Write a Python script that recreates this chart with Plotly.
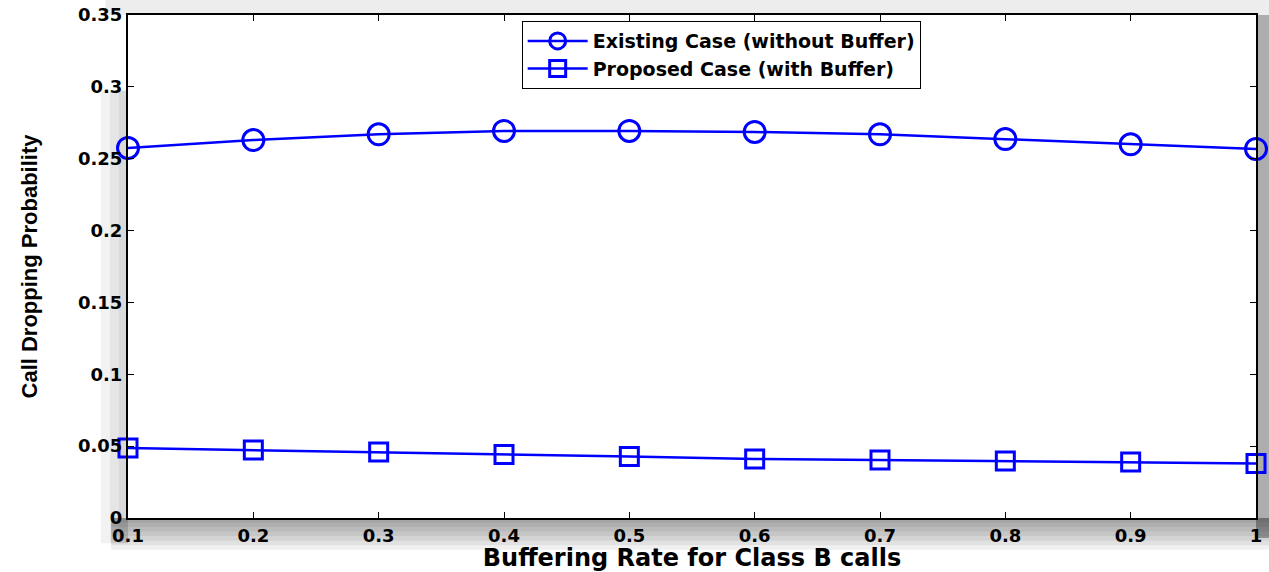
import plotly.graph_objects as go

rates = [0.1, 0.2, 0.3, 0.4, 0.5, 0.6, 0.7, 0.8, 0.9, 1.0]
existing = [0.2575, 0.2630, 0.2670, 0.2693, 0.2693, 0.2686, 0.2670, 0.2637, 0.2600, 0.2568]
proposed = [0.0487, 0.0473, 0.0459, 0.0442, 0.0428, 0.0411, 0.0404, 0.0397, 0.0390, 0.0380]
x_ticks = [0.1, 0.2, 0.3, 0.4, 0.5, 0.6, 0.7, 0.8, 0.9, 1]
x_tick_text = ["0.1", "0.2", "0.3", "0.4", "0.5", "0.6", "0.7", "0.8", "0.9", "1"]
y_ticks = [0, 0.05, 0.1, 0.15, 0.2, 0.25, 0.3, 0.35]
y_tick_text = ["0", "0.05", "0.1", "0.15", "0.2", "0.25", "0.3", "0.35"]

BLUE = "#0000ff"
FONT = "DejaVu Sans, Verdana, sans-serif"
NARROW = "Liberation Sans Narrow, Arial Narrow, Liberation Sans, sans-serif"

fig = go.Figure()
fig.add_trace(go.Scatter(
    x=rates, y=existing, mode="lines+markers",
    name="Existing Case (without Buffer)",
    line=dict(color=BLUE, width=2.5),
    marker=dict(symbol="circle-open", size=21, color=BLUE, line=dict(width=3, color=BLUE)),
    cliponaxis=False,
))
fig.add_trace(go.Scatter(
    x=rates, y=proposed, mode="lines+markers",
    name="Proposed Case (with Buffer)",
    line=dict(color=BLUE, width=2.5),
    marker=dict(symbol="square-open", size=18, color=BLUE, line=dict(width=3, color=BLUE)),
    cliponaxis=False,
))

shapes = []
# bottom shadow (stacked translucent bands fade away from the axis)
for k in range(1, 8):
    shapes.append(dict(type="rect", xref="paper", yref="paper", x0=-0.015, x1=1.02,
                       y0=-0.009 * k, y1=0.0, fillcolor="rgba(0,0,0,0.06)",
                       line=dict(width=0), layer="below"))
# right shadow
shapes.append(dict(type="rect", xref="paper", yref="paper", x0=1.0, x1=1.02,
                   y0=-0.04, y1=1.0, fillcolor="rgba(0,0,0,0.32)", line=dict(width=0), layer="below"))
# top band
shapes.append(dict(type="rect", xref="paper", yref="paper", x0=-0.02, x1=1.02,
                   y0=1.0, y1=1.04, fillcolor="rgba(0,0,0,0.07)", line=dict(width=0), layer="below"))
# left shadow
for k in range(1, 4):
    shapes.append(dict(type="rect", xref="paper", yref="paper", x0=-0.008 * k, x1=0.0,
                       y0=-0.05, y1=0.85, fillcolor="rgba(0,0,0,0.05)", line=dict(width=0), layer="below"))

fig.update_layout(
    width=1269, height=572,
    margin=dict(l=128, r=13, t=15, b=54, autoexpand=False),
    paper_bgcolor="white",
    plot_bgcolor="white",
    font=dict(family=FONT, size=17, color="black"),
    showlegend=True,
    legend=dict(
        x=0.349, y=0.988, xanchor="left", yanchor="top",
        bgcolor="white", bordercolor="black", borderwidth=1,
        font=dict(family=FONT, size=19, color="black", weight="bold"),
        itemwidth=60, tracegroupgap=0,
    ),
    shapes=shapes,
    xaxis=dict(
        range=[0.1, 1.0], tickmode="array", tickvals=x_ticks, ticktext=x_tick_text,
        showgrid=False, zeroline=False, showline=True, linecolor="black", linewidth=2,
        mirror="ticks", ticks="inside", ticklen=6, tickcolor="black", tickwidth=1,
        automargin=False,
        tickfont=dict(family=FONT, size=18, color="black", weight="bold"),
        title=dict(text="Buffering Rate for Class B calls", standoff=0,
                   font=dict(family=FONT, size=24, color="black", weight="bold")),
    ),
    yaxis=dict(
        range=[0, 0.35], tickmode="array", tickvals=y_ticks, ticktext=y_tick_text,
        showgrid=False, zeroline=False, showline=True, linecolor="black", linewidth=2,
        mirror="ticks", ticks="inside", ticklen=6, tickcolor="black", tickwidth=1,
        automargin=False,
        tickfont=dict(family=FONT, size=18, color="black", weight="bold"),
        title=dict(text="Call Dropping Probability", standoff=34,
                   font=dict(family=NARROW, size=22, color="black", weight="bold")),
    ),
)

fig.write_html(
    "out.html",
    config={"displayModeBar": False},
    post_script="document.body.style.margin='0';document.body.style.overflow='hidden';",
)
